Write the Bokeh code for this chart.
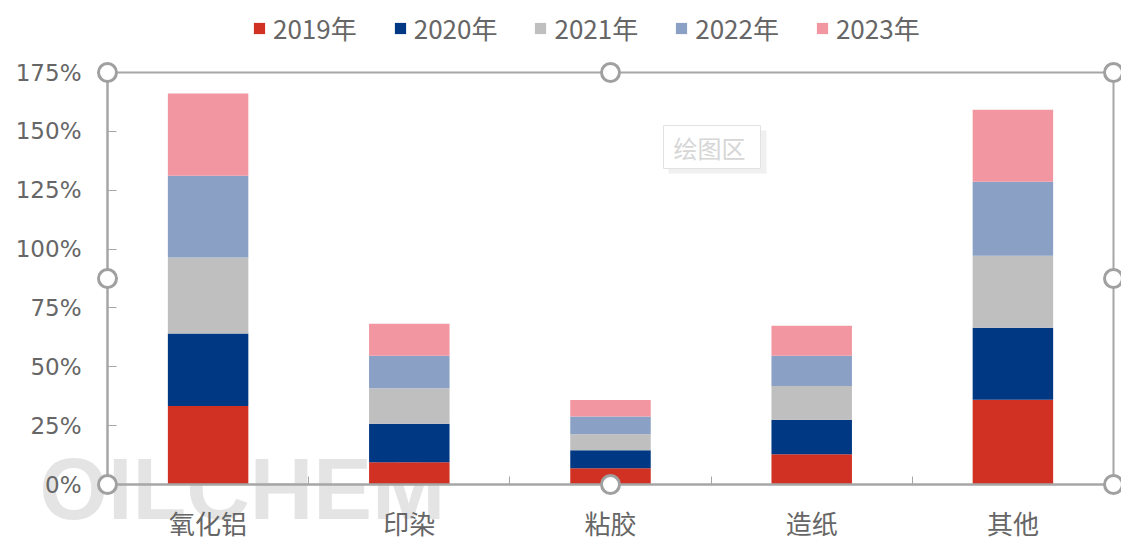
from bokeh.plotting import figure
from bokeh.models import (ColumnDataSource, Range1d, LinearAxis, FixedTicker, PrintfTickFormatter,
                          CustomJSTickFormatter, Legend, LegendItem, BoxAnnotation, Label)
from bokeh.embed import file_html
from bokeh.resources import INLINE

# ---------------- data ----------------
categories = ["氧化铝", "印染", "粘胶", "造纸", "其他"]
years = ["2019年", "2020年", "2021年", "2022年", "2023年"]
v2019 = [33.3, 9.5, 6.9, 12.9, 36.0]
v2020 = [30.8, 16.3, 7.6, 14.6, 30.6]
v2021 = [32.3, 15.1, 6.8, 14.3, 30.6]
v2022 = [34.7, 13.8, 7.6, 12.9, 31.4]
v2023 = [35.0, 13.6, 7.0, 12.7, 30.6]
y_ticks = [0, 25, 50, 75, 100, 125, 150, 175]
colors = ["#D13123", "#003883", "#BFBFBF", "#8AA1C5", "#F296A1"]

# ---------------- layout constants (pixels) ----------------
W, H = 1121, 541
n = len(categories)
ymax = y_ticks[-1]
PL, PR, PT, PB = 107, 1113, 72, 484        # plot area
sx = (PR - PL) / n
sy = (PB - PT) / ymax


def px_x(px):
    return (px - PL) / sx


def px_y(py):
    return (PB - py) / sy


FONT = "Noto Sans CJK SC"
TXT = "#666666"
GRAY = "#a6a6a6"

source = ColumnDataSource(dict(
    x=[i + 0.5 for i in range(n)],
    **{years[0]: v2019, years[1]: v2020, years[2]: v2021, years[3]: v2022, years[4]: v2023}
))

p = figure(width=W, height=H, output_backend="svg", toolbar_location=None,
           x_range=Range1d(px_x(0), px_x(W)), y_range=Range1d(px_y(H), px_y(0)),
           x_axis_type=None, y_axis_type=None, min_border=0)
p.outline_line_color = None
p.xgrid.visible = False
p.ygrid.visible = False
p.background_fill_color = "white"
p.border_fill_color = "white"

# watermark
p.add_layout(Label(x=px_x(39), y=px_y(488), text="OILCHEM", text_align="left",
                   text_baseline="middle", text_font="Liberation Sans",
                   text_font_style="bold", text_font_size="88px", text_color="#c4c4c4",
                   text_alpha=0.45, level="underlay"))

renderers = p.vbar_stack(years, x="x", width=0.4, color=colors, source=source, line_color=None)

# axes
yaxis = LinearAxis(fixed_location=0, bounds=(0, ymax), ticker=FixedTicker(ticks=y_ticks),
                   formatter=PrintfTickFormatter(format="%d%%"))
yaxis.axis_line_color = GRAY
yaxis.axis_line_width = 2
yaxis.major_tick_line_color = GRAY
yaxis.major_tick_line_width = 1
yaxis.major_tick_in = 9
yaxis.major_tick_out = 0
yaxis.minor_tick_line_color = None
yaxis.major_label_text_font = "DejaVu Sans"
yaxis.major_label_text_font_size = "23px"
yaxis.major_label_text_color = TXT
yaxis.major_label_standoff = 26
p.add_layout(yaxis, "left")

xaxis = LinearAxis(fixed_location=0, bounds=(0, n),
                   ticker=FixedTicker(ticks=[i + 0.5 for i in range(n)], minor_ticks=list(range(n + 1))),
                   formatter=CustomJSTickFormatter(args=dict(labels=categories),
                                                   code="return labels[Math.floor(tick)] || '';"))
xaxis.axis_line_color = GRAY
xaxis.axis_line_width = 2
xaxis.major_tick_line_color = None
xaxis.minor_tick_line_color = GRAY
xaxis.minor_tick_line_width = 1
xaxis.minor_tick_in = 8
xaxis.minor_tick_out = 0
xaxis.major_label_text_font = FONT
xaxis.major_label_text_font_size = "26px"
xaxis.major_label_text_color = TXT
xaxis.major_label_standoff = 13
p.add_layout(xaxis, "below")

# plot-area selection frame + handles
p.add_layout(BoxAnnotation(left=0, right=n, bottom=0, top=ymax, fill_alpha=0,
                           line_color=GRAY, line_alpha=1, line_width=2))
hx = [0, n / 2, n, 0, n, 0, n / 2, n]
hy = [ymax, ymax, ymax, ymax / 2, ymax / 2, 0, 0, 0]
p.scatter(hx, hy, size=18, marker="circle", fill_color="white", line_color="#a0a0a0",
          line_width=3, level="overlay")

# "绘图区" tooltip box with soft shadow
p.add_layout(BoxAnnotation(left=px_x(668), right=px_x(766), top=px_y(130), bottom=px_y(173),
                           fill_color="#f0f0f0", fill_alpha=1, line_color=None))
p.add_layout(BoxAnnotation(left=px_x(663), right=px_x(760), top=px_y(125), bottom=px_y(168),
                           fill_color="white", fill_alpha=1, line_color="#e2e2e2",
                           line_alpha=1, line_width=1))
p.add_layout(Label(x=px_x(709), y=px_y(146.5), text="绘图区", text_align="center",
                   text_baseline="middle", text_font=FONT, text_font_size="24px",
                   text_color="#d6d6d6"))

# legend
legend = Legend(items=[LegendItem(label=yr, renderers=[r]) for yr, r in zip(years, renderers)],
                orientation="horizontal", location=(252, H - 46))
legend.label_text_font = FONT
legend.label_text_font_size = "26px"
legend.label_text_color = TXT
legend.glyph_width = 14
legend.glyph_height = 14
legend.label_height = 14
legend.label_standoff = 7
legend.spacing = 36
legend.padding = 0
legend.margin = 0
legend.border_line_color = None
legend.background_fill_alpha = 0
p.add_layout(legend, "center")

open("out.html", "w").write(file_html(p, INLINE))
